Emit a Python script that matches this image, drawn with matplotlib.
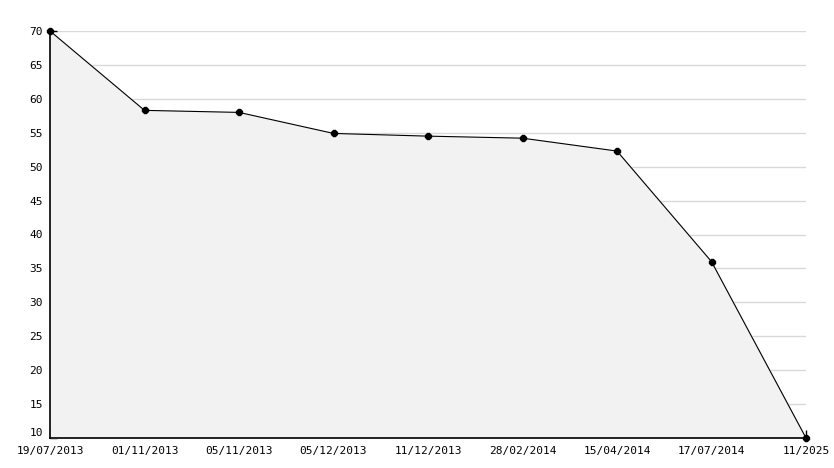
import matplotlib.pyplot as plt

dates = ["19/07/2013", "01/11/2013", "05/11/2013", "05/12/2013", "11/12/2013",
         "28/02/2014", "15/04/2014", "17/07/2014", "11/2025"]
values = [70.0, 58.3, 58.0, 54.9, 54.5, 54.2, 52.3, 36.0, 10.0]

plt.rcParams['font.family'] = 'DejaVu Sans Mono'

fig = plt.figure(figsize=(8.34, 4.68), dpi=100)
ax = fig.add_axes([50 / 834, 1 - 438 / 468, 756 / 834, 407 / 468])

x = list(range(len(dates)))
ax.fill_between(x, values, 10, color='#f2f2f2', zorder=1)
ax.plot(x, values, color='black', lw=0.8, marker='8', ms=4.5, zorder=3, clip_on=False)

ax.set_xlim(0, len(dates) - 1)
ax.set_ylim(10, 70)
ax.set_xticks(x)
ax.set_xticklabels(dates, fontsize=8)
ax.set_yticks(range(10, 71, 5))
ax.set_yticks(range(10, 71, 1), minor=True)
ax.tick_params(axis='y', labelsize=8, direction='in', length=5, width=1, pad=5)
ax.tick_params(axis='y', which='minor', direction='in', length=3, width=1)
ax.tick_params(axis='x', direction='in', length=6, width=1, pad=6)
ax.grid(axis='y', color='#d9d9d9', lw=1, zorder=0)
ax.set_axisbelow(True)

# nudge the bottom y label up a little so it doesn't run into the first date
ax.get_yticklabels()[0].set_va('bottom')

for s in ['top', 'right']:
    ax.spines[s].set_visible(False)
for s in ['left', 'bottom']:
    ax.spines[s].set_linewidth(1.2)

fig.savefig('out.png', dpi=100)
